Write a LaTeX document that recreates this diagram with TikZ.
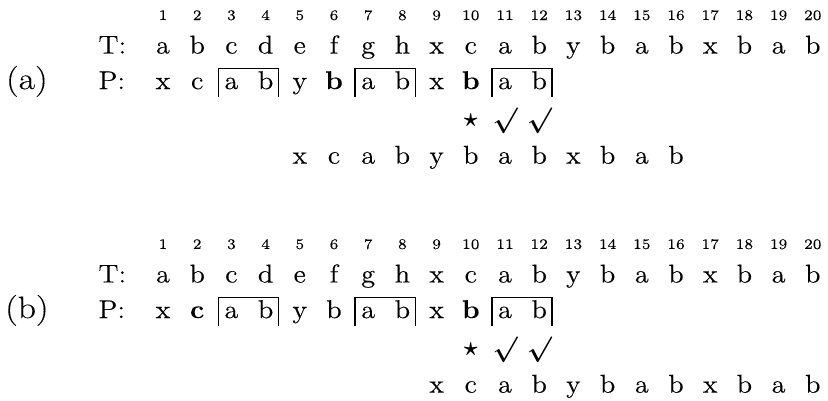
\documentclass[tikz,border=0pt]{standalone}
\usepackage{amsmath}
\usepackage{fontspec}
\setmainfont{Latin Modern Roman}[RawFeature={embolden=0.2}]
\usetikzlibrary{positioning}

\tikzset{
  ch/.style={inner sep=0pt, anchor=base, xscale=1.1, font=\large},
  num/.style={inner sep=0pt, anchor=base, xscale=1.05, font=\fontsize{6.8pt}{7pt}\selectfont},
  tag/.style={inner sep=0pt, anchor=base west, xscale=1.1, font=\large},
  okmark/.style={inner sep=0pt, font=\fontsize{13pt}{14pt}\selectfont\boldmath},
  brk/.style={line width=0.8pt},
}

\begin{document}
\begin{tikzpicture}[x=0.56cm, y=0.56cm]
  \useasboundingbox (-3.766,0) rectangle (20.444,-11.725);

  % (a)
  \begin{scope}[shift={(0,-0.585)}]
    \node[ch, font=\Large, xscale=1.05] (laba) at (-2.98,-2.02) {(a)};
    \node[tag] (Ta) at (-0.9,-0.98) {T:};
    \node[tag] (Pa) at (-0.9,-2.02) {P:};
    \foreach \c [count=\i] in {a,b,c,d,e,f,g,h,x,c,a,b,y,b,a,b,x,b,a,b} {
      \node[num] (na\i) at (\i,0) {\i};
      \node[ch] (ta\i) at (\i,-0.98) {\c};
    }
    \foreach \c [count=\i] in {x,c,a,b,y,\textbf{b},a,b,x,\textbf{b},a,b}
      \node[ch] (pa\i) at (\i,-2.02) {\c};
    \foreach \i in {3,7,11}
      \draw[brk] ([shift={(-0.38,-0.23)}]pa\i.base) |- ([shift={(1.38,0.6)}]pa\i.base) -- ([shift={(1.38,-0.23)}]pa\i.base);
    \node[okmark] (stara) at (10,-2.95) {$\unboldmath\star$};
    \node[okmark] (oka1) at (11,-2.95) {$\surd$};
    \node[okmark] (oka2) at (12,-2.95) {$\surd$};
    \foreach \c [count=\i] in {x,c,a,b,y,b,a,b,x,b,a,b}
      \node[ch] (sa\i) at (\i+4,-4.2) {\c};
  \end{scope}

  % (b)
  \begin{scope}[shift={(0,-7.28)}]
    \node[ch, font=\Large, xscale=1.05] (labb) at (-2.98,-2.02) {(b)};
    \node[tag] (Tb) at (-0.9,-0.98) {T:};
    \node[tag] (Pb) at (-0.9,-2.02) {P:};
    \foreach \c [count=\i] in {a,b,c,d,e,f,g,h,x,c,a,b,y,b,a,b,x,b,a,b} {
      \node[num] (nb\i) at (\i,0) {\i};
      \node[ch] (tb\i) at (\i,-0.98) {\c};
    }
    \foreach \c [count=\i] in {x,\textbf{c},a,b,y,b,a,b,x,\textbf{b},a,b}
      \node[ch] (pb\i) at (\i,-2.02) {\c};
    \foreach \i in {3,7,11}
      \draw[brk] ([shift={(-0.38,-0.23)}]pb\i.base) |- ([shift={(1.38,0.6)}]pb\i.base) -- ([shift={(1.38,-0.23)}]pb\i.base);
    \node[okmark] (starb) at (10,-2.95) {$\unboldmath\star$};
    \node[okmark] (okb1) at (11,-2.95) {$\surd$};
    \node[okmark] (okb2) at (12,-2.95) {$\surd$};
    \foreach \c [count=\i] in {x,c,a,b,y,b,a,b,x,b,a,b}
      \node[ch] (sb\i) at (\i+8,-4.2) {\c};
  \end{scope}
\end{tikzpicture}
\end{document}
